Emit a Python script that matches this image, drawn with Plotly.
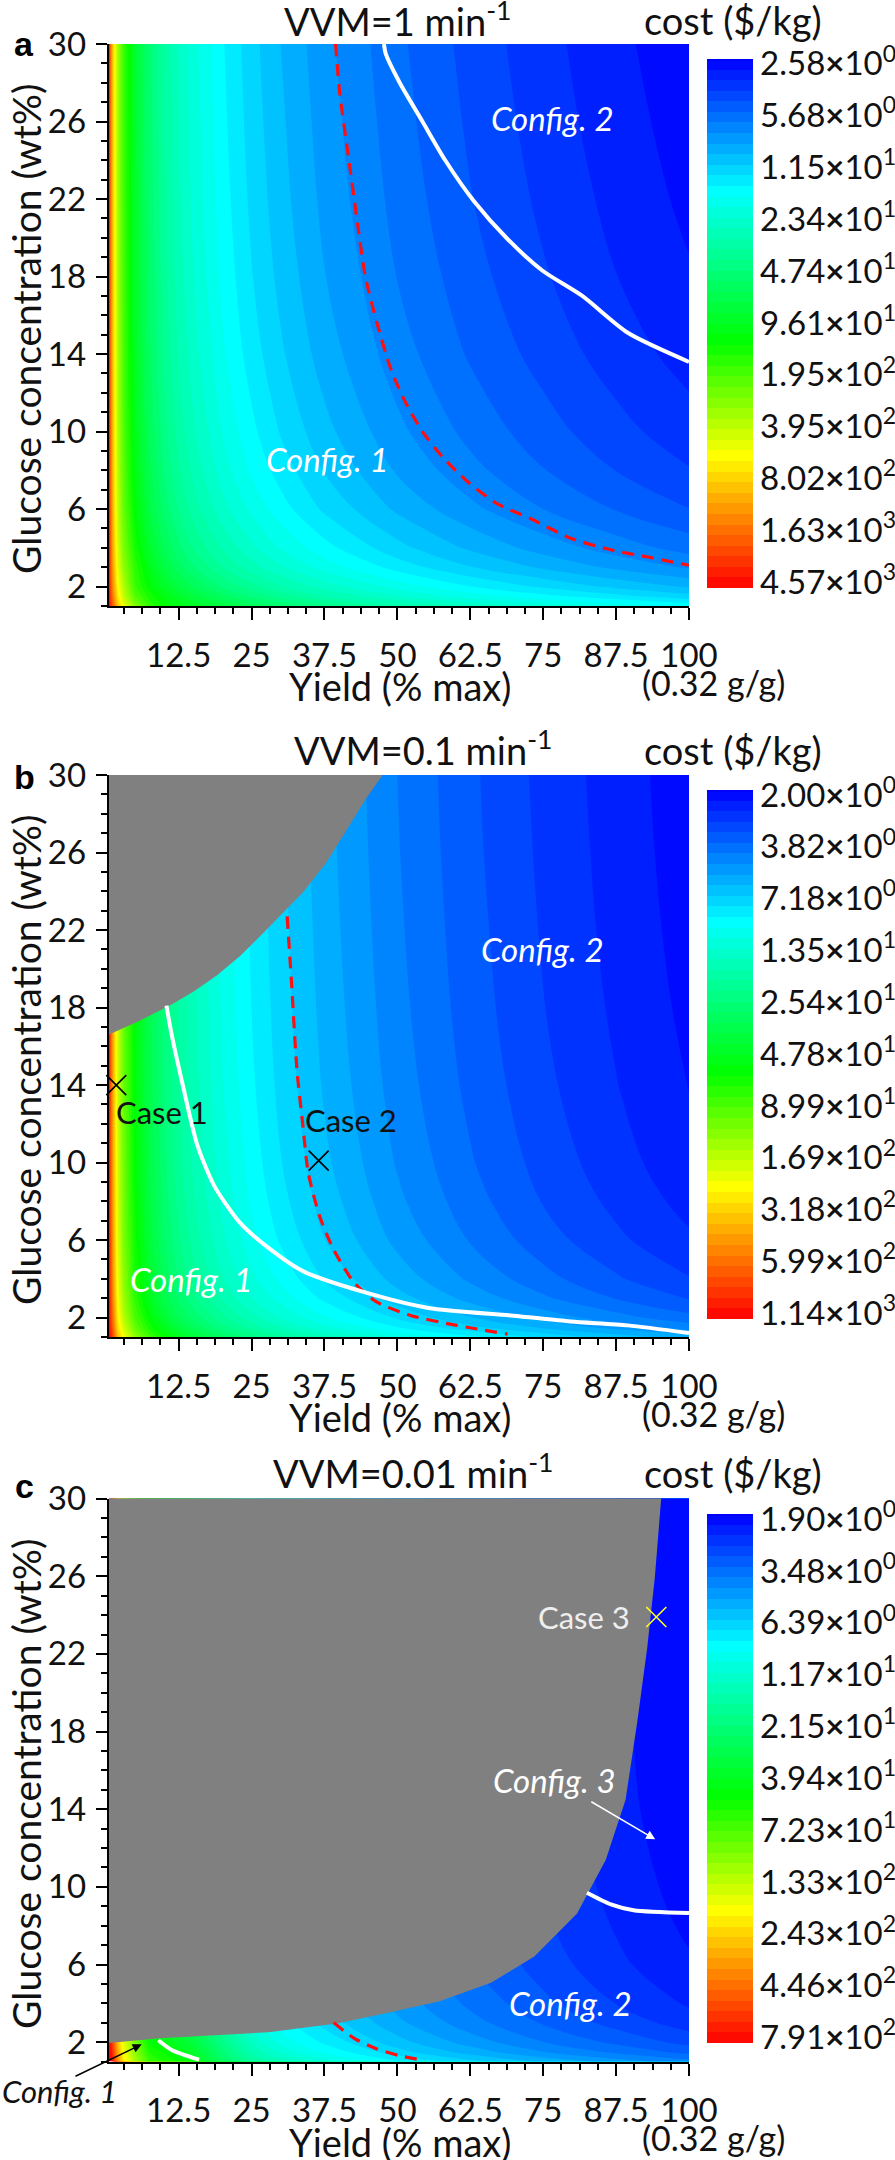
import math
import plotly.graph_objects as go

W, H = 895, 2160
FONT = "Lato"

X_GRID = [0.5, 1, 2, 3, 5, 7.5, 10, 12.5, 15, 20, 25, 30, 37.5, 50, 62.5, 75, 87.5, 100]
Y_GRID = [30, 26, 22, 18, 14, 10, 8, 6, 4, 3, 2, 1.5, 1]

COST_A = [
    [4570, 1360, 405, 209, 96, 54, 37, 27.8, 22.2, 15.8, 12.2, 9.9, 7.7, 5.64, 4.44, 3.67, 3.11, 2.71],
    [4570, 1368, 409, 211, 97.6, 55.3, 37.8, 28.4, 22.8, 16.2, 12.5, 10.2, 7.93, 5.8, 4.57, 3.77, 3.2, 2.79],
    [4570, 1378, 414, 215, 99.6, 56.7, 38.8, 29.2, 23.4, 16.7, 12.9, 10.5, 8.19, 6.0, 4.73, 3.91, 3.32, 2.89],
    [4570, 1393, 422, 220, 102.6, 58.7, 40.3, 30.4, 24.4, 17.4, 13.5, 11, 8.59, 6.3, 4.97, 4.11, 3.49, 3.04],
    [4570, 1417, 434, 228, 107, 61.9, 42.7, 32.4, 26, 18.6, 14.4, 11.8, 9.23, 6.78, 5.35, 4.43, 3.76, 3.28],
    [4570, 1460, 455, 242, 116, 67.6, 47, 35.8, 28.9, 20.8, 16.2, 13.2, 10.4, 7.64, 6.04, 5, 4.25, 3.71],
    [4570, 1497, 474, 254, 123, 72.5, 50.7, 38.8, 31.4, 22.6, 17.6, 14.5, 11.4, 8.38, 6.63, 5.49, 4.68, 4.08],
    [4570, 1560, 505, 275, 136, 81, 57, 43.8, 35.6, 25.8, 20.2, 16.6, 13, 9.64, 7.64, 6.33, 5.4, 4.71],
    [4570, 1685, 568, 317, 161, 97.6, 69.5, 53.8, 43.9, 32, 25.2, 20.7, 16.4, 12.1, 9.64, 8, 6.83, 5.96],
    [4570, 1810, 630, 359, 186, 114, 82, 63.8, 52.2, 38.3, 30.2, 24.9, 19.7, 14.6, 11.6, 9.67, 8.25, 7.21],
    [4570, 2060, 755, 442, 205, 135, 102, 82, 68.9, 50.8, 40.2, 33.2, 26.4, 19.6, 15.6, 13, 11.1, 9.71],
    [4570, 2310, 880, 500, 240, 160, 122, 100, 84, 63.3, 50.2, 41.5, 33, 24.6, 19.6, 16.3, 14, 12.2],
    [4570, 2810, 1130, 640, 330, 190, 140, 120, 105, 82, 68, 57, 46.4, 34.6, 27.6, 23, 19.7, 17.2],
]
COST_B = [
    [1140, 508, 179, 102.6, 53.6, 33, 23.8, 18.6, 15.2, 11.2, 8.8, 7.26, 5.76, 4.28, 3.41, 2.82, 2.42, 2.11],
    [1140, 510, 180, 103, 54, 33.3, 24, 18.7, 15.3, 11.3, 8.88, 7.33, 5.81, 4.32, 3.44, 2.85, 2.44, 2.13],
    [1140, 513, 182, 104, 54.6, 33.7, 24.3, 19, 15.5, 11.4, 9, 7.43, 5.89, 4.38, 3.49, 2.89, 2.47, 2.16],
    [1140, 517, 184, 106, 55.4, 34.2, 24.7, 19.3, 15.8, 11.6, 9.16, 7.56, 6, 4.46, 3.55, 2.94, 2.52, 2.2],
    [1140, 523, 187, 108, 56.6, 35, 25.3, 19.8, 16.2, 11.9, 9.4, 7.76, 6.16, 4.58, 3.65, 3.02, 2.59, 2.26],
    [1140, 534, 192, 111, 58.8, 36.5, 26.4, 20.6, 16.9, 12.5, 9.84, 8.13, 6.45, 4.8, 3.82, 3.17, 2.71, 2.37],
    [1140, 544, 197, 115, 60.8, 37.8, 27.4, 21.4, 17.6, 13, 10.2, 8.46, 6.72, 5, 3.98, 3.3, 2.83, 2.47],
    [1140, 560, 205, 120, 64, 40, 29, 22.7, 18.7, 13.8, 10.9, 9, 7.14, 5.32, 4.24, 3.52, 3.01, 2.63],
    [1140, 592, 221, 131, 70.4, 44.2, 32.2, 25.3, 20.8, 15.4, 12.2, 10.1, 8, 5.96, 4.75, 3.94, 3.38, 2.95],
    [1140, 625, 238, 142, 77, 48.6, 35.5, 27.9, 23, 17, 13.5, 11.2, 8.88, 6.62, 5.28, 4.38, 3.75, 3.28],
    [1140, 690, 270, 163, 90, 57.3, 42, 33.1, 27.3, 20.3, 16, 13.3, 10.6, 7.92, 6.32, 5.25, 4.5, 3.93],
    [1140, 755, 303, 185, 103, 66, 48.5, 38.3, 31.7, 23.5, 18.7, 15.5, 12.3, 9.22, 7.36, 6.12, 5.24, 4.58],
    [1140, 885, 368, 228, 129, 83, 61.5, 48.7, 40.3, 30, 23.9, 19.8, 15.8, 11.8, 9.44, 7.85, 6.73, 5.88],
]
COST_C = [
    [791, 371, 164, 93, 53, 29.2, 25.4, 22.3, 19.1, 11.7, 7.7, 6.27, 5.01, 3.76, 3.01, 2.51, 2.15, 1.9],
    [791, 371, 164, 93, 53, 29.2, 25.4, 22.3, 19.1, 11.7, 7.7, 6.3, 5.04, 3.78, 3.02, 2.52, 2.16, 1.9],
    [791, 371, 164, 93, 53, 29.2, 25.4, 22.3, 19.1, 11.7, 7.7, 6.33, 5.07, 3.8, 3.04, 2.53, 2.17, 1.9],
    [791, 378, 167, 95, 54, 29.7, 25.9, 22.7, 19.4, 11.9, 7.8, 6.43, 5.15, 3.86, 3.09, 2.57, 2.21, 1.93],
    [791, 385, 171, 96, 55, 30.3, 26.4, 23.1, 19.8, 12.1, 8, 6.53, 5.23, 3.92, 3.14, 2.61, 2.24, 1.96],
    [791, 399, 177, 100, 57, 31.4, 27.4, 23.9, 20.5, 12.5, 8.3, 6.77, 5.41, 4.06, 3.25, 2.71, 2.32, 2.03],
    [791, 413, 183, 103, 59, 32.5, 28.3, 24.8, 21.2, 13, 8.6, 6.97, 5.57, 4.18, 3.34, 2.79, 2.39, 2.09],
    [791, 434, 192, 108, 62, 34, 29.8, 26, 22.3, 13.6, 9, 7.27, 5.81, 4.36, 3.49, 2.91, 2.49, 2.18],
    [791, 476, 211, 119, 68, 37, 32.6, 28.6, 24.5, 15, 9.9, 7.93, 6.35, 4.76, 3.81, 3.17, 2.72, 2.38],
    [791, 525, 232, 131, 75, 41, 36, 31.5, 27, 16.5, 10.9, 8.57, 6.85, 5.14, 4.11, 3.43, 2.94, 2.57],
    [791, 616, 273, 154, 88, 48.4, 42, 37, 31.7, 19.4, 12.8, 9.83, 7.87, 5.9, 4.72, 3.93, 3.37, 2.95],
    [791, 700, 310, 175, 100, 55, 48, 42, 36, 22, 14.5, 11.2, 8.9, 6.66, 5.33, 4.44, 3.81, 3.33],
    [791, 791, 357, 201, 115, 63, 55, 48, 41, 25, 16.7, 13.8, 10.9, 8.2, 6.56, 5.47, 4.69, 4.1],
]

LABELS_A = ["2.58|0", "5.68|0", "1.15|1", "2.34|1", "4.74|1", "9.61|1", "1.95|2", "3.95|2", "8.02|2", "1.63|3", "4.57|3"]
LABELS_B = ["2.00|0", "3.82|0", "7.18|0", "1.35|1", "2.54|1", "4.78|1", "8.99|1", "1.69|2", "3.18|2", "5.99|2", "1.14|3"]
LABELS_C = ["1.90|0", "3.48|0", "6.39|0", "1.17|1", "2.15|1", "3.94|1", "7.23|1", "1.33|2", "2.43|2", "4.46|2", "7.91|2"]
RANGE_A = (2.58, 4570)
RANGE_B = (2.00, 1140)
RANGE_C = (1.90, 791)

X_TICKS = [12.5, 25, 37.5, 50, 62.5, 75, 87.5, 100]
X_TICK_TEXT = ["12.5", "25", "37.5", "50", "62.5", "75", "87.5", "100"]
X_MINOR = [3.125, 6.25, 9.375, 15.625, 18.75, 21.875, 28.125, 31.25, 34.375, 40.625, 43.75, 46.875,
           53.125, 56.25, 59.375, 65.625, 68.75, 71.875, 78.125, 81.25, 84.375, 90.625, 93.75, 96.875]
Y_TICKS = [2, 6, 10, 14, 18, 22, 26, 30]
Y_MINOR = [1, 3, 4, 5, 7, 8, 9, 11, 12, 13, 15, 16, 17, 19, 20, 21, 23, 24, 25, 27, 28, 29]

WHITE_A_X = [47.7, 48, 50.4, 54.3, 58.2, 63.1, 69, 74.9, 81.7, 89.5, 100]
WHITE_A_Y = [30, 29.5, 28, 26, 24, 21.9, 19.9, 18.3, 17, 15.1, 13.6]
RED_A_X = [39.4, 40.1, 41.6, 43, 44.5, 46.5, 48.9, 51.4, 54.3, 57.7, 62.1, 67, 72.9, 79.7, 86.6, 93.4, 100]
RED_A_Y = [30, 27.5, 24.2, 21.1, 18, 15.6, 13.2, 11.5, 10, 8.7, 7.4, 6.3, 5.5, 4.5, 3.9, 3.5, 3.1]

WHITE_B_X = [10.4, 11.3, 13.2, 15.7, 18.6, 23, 27.9, 33.8, 44.5, 55.3, 69.9, 79.7, 89.5, 100]
WHITE_B_Y = [18.1, 16.6, 14, 10.9, 8.8, 6.9, 5.6, 4.4, 3.3, 2.5, 2.1, 1.8, 1.6, 1.2]
RED_B_X = [31.1, 31.8, 32.8, 33.8, 34.7, 36.7, 39.1, 42.6, 46.5, 52.4, 60.2, 68.9]
RED_B_Y = [22.7, 19.5, 14.7, 11.9, 9.5, 7.2, 5.5, 3.8, 2.8, 2.1, 1.6, 1.15]
GRAY_B_X = [0.5, 5.4, 11.3, 15.2, 19, 23, 27, 30.8, 33.8, 37.7, 40.6, 44.5, 47.3, 0.5]
GRAY_B_Y = [16.65, 17.3, 18.2, 18.9, 19.7, 20.7, 21.9, 23.1, 24, 25.5, 26.9, 28.8, 30, 30]

WHITE_C1_X = [82.5, 86.6, 90.5, 100]
WHITE_C1_Y = [9.7, 9.1, 8.8, 8.65]
WHITE_C2_X = [9, 11.3, 16]
WHITE_C2_Y = [2.1, 1.6, 1.1]
RED_C_X = [39.1, 42.6, 46.5, 50.4, 54.7]
RED_C_Y = [3, 2.2, 1.65, 1.3, 1.05]
GRAY_C_X = [0.5, 9.3, 27.9, 39.6, 48.4, 57.2, 66, 73.4, 80.7, 85.6, 89, 91, 92.7, 94, 95.1, 0.5]
GRAY_C_Y = [2.0, 2.24, 2.55, 3.0, 3.55, 4.14, 5.1, 6.44, 8.65, 11.4, 14.5, 18.5, 22.3, 25.9, 30, 30]

CASE_B_X = [1.8, 36.5]
CASE_B_Y = [14, 10.1]
CASE_C_X = [94.4]
CASE_C_Y = [23.9]

# colour stops: s runs from most expensive (red) to cheapest (blue)
COLORSCALE = [[0, "#ff0000"], [0.25, "#ffff00"], [0.465, "#00ff00"], [0.75, "#00ffff"], [1, "#0000ff"]]

PX_L, PX_R = 108.7, 689
PANELS = [
    dict(top=44, bot=606, bar_top=58.6, bar_bot=587.5, cost=COST_A, rng=RANGE_A, labels=LABELS_A,
         title="VVM=1 min<sup>-1</sup>", letter="a", title_x=397, title_y=19, cost_y=20, letter_y=44),
    dict(top=775, bot=1337, bar_top=790, bar_bot=1318.5, cost=COST_B, rng=RANGE_B, labels=LABELS_B,
         title="VVM=0.1 min<sup>-1</sup>", letter="b", title_x=423, title_y=748, cost_y=750, letter_y=777),
    dict(top=1498.6, bot=2061.6, bar_top=1514, bar_bot=2042.7, cost=COST_C, rng=RANGE_C, labels=LABELS_C,
         title="VVM=0.01 min<sup>-1</sup>", letter="c", title_x=413, title_y=1471, cost_y=1473, letter_y=1486),
]


def px(x):
    return x / W


def py(y):
    return 1 - y / H


def tick_label(s):
    mant, exp = s.split("|")
    return f"{mant}<b>×</b>10<sup>{exp}</sup>"


fig = go.Figure()
annotations = []
layout_axes = {}
BANDS = 50

for i, p in enumerate(PANELS):
    n = "" if i == 0 else str(i + 1)
    xa, ya = f"x{n}", f"y{n}"
    lo = -math.log10(p["rng"][1])
    hi = -math.log10(p["rng"][0])
    size = (hi - lo) / BANDS
    z = [[-math.log10(v) for v in row] for row in reversed(p["cost"])]
    tickvals = [hi - size / 2 - k * (hi - lo - size) / 10 for k in range(11)]
    fig.add_trace(go.Contour(
        x=X_GRID, y=list(reversed(Y_GRID)), z=z, xaxis=xa, yaxis=ya,
        zmin=lo, zmax=hi, autocontour=False, colorscale=COLORSCALE,
        contours=dict(start=lo, end=hi, size=size, coloring="fill", showlines=False),
        line=dict(width=0, smoothing=1), hoverinfo="skip",
        colorbar=dict(
            x=px(706.6), xanchor="left", xpad=0, y=py((p["bar_top"] + p["bar_bot"]) / 2), yanchor="middle", ypad=0,
            thickness=45.5, thicknessmode="pixels", len=p["bar_bot"] - p["bar_top"], lenmode="pixels",
            outlinewidth=0, borderwidth=0, ticks="", tickmode="array", tickvals=tickvals,
            ticktext=[tick_label(s) for s in p["labels"]], ticklabelposition="outside",
            tickfont=dict(family=FONT, size=33, color="#111"),
        ),
    ))
    axis_common = dict(showgrid=False, zeroline=False, showline=True, linecolor="black", linewidth=2,
                       ticks="outside", tickcolor="black", tickwidth=2, tickmode="array",
                       tickfont=dict(family=FONT, size=33, color="#111"))
    layout_axes[f"xaxis{n}"] = dict(axis_common, domain=[px(PX_L), px(PX_R)], range=[0.5, 100], anchor=ya,
                                    tickvals=X_TICKS, ticktext=X_TICK_TEXT, ticklen=12, ticklabelstandoff=7,
                                    minor=dict(tickmode="array", tickvals=X_MINOR, ticks="outside", ticklen=6,
                                               tickwidth=2, tickcolor="black"))
    layout_axes[f"yaxis{n}"] = dict(axis_common, domain=[py(p["bot"]), py(p["top"])], range=[1, 30], anchor=xa,
                                    tickvals=Y_TICKS, ticklen=11, ticklabelstandoff=3,
                                    minor=dict(tickmode="array", tickvals=Y_MINOR, ticks="outside", ticklen=6,
                                               tickwidth=2, tickcolor="black"))

    def text(x, y, t, size=38, color="#111", **kw):
        annotations.append(dict(x=px(x), y=py(y), xref="paper", yref="paper", text=t, showarrow=False,
                                xanchor="center", yanchor="middle", font=dict(family=FONT, size=size, color=color), **kw))

    text(p["title_x"], p["title_y"], p["title"])
    text(733, p["cost_y"], "cost ($/kg)")
    annotations.append(dict(x=px(24), y=py(p["letter_y"]), xref="paper", yref="paper", text=f"<b>{p['letter']}</b>",
                            showarrow=False, xanchor="center", yanchor="middle",
                            font=dict(family="Liberation Sans", size=34, color="black")))
    text(26, (p["top"] + p["bot"]) / 2 + 4, "Glucose concentration (wt%)", size=39, textangle=-90)
    text(400, p["bot"] + 80, "Yield (% max)")
    text(713, p["bot"] + 76, "(0.32 g/g)", size=34)


def line(x, y, color, width, axis, dash="solid"):
    n = "" if axis == 1 else str(axis)
    fig.add_trace(go.Scatter(x=x, y=y, mode="lines", line=dict(color=color, width=width, dash=dash, shape="spline", smoothing=0.7),
                             xaxis=f"x{n}", yaxis=f"y{n}", showlegend=False, hoverinfo="skip"))


def gray(x, y, axis):
    n = "" if axis == 1 else str(axis)
    fig.add_trace(go.Scatter(x=x, y=y, mode="lines", fill="toself", fillcolor="#808080",
                             line=dict(color="#808080", width=1.5), xaxis=f"x{n}", yaxis=f"y{n}",
                             showlegend=False, hoverinfo="skip"))


def cross(x, y, color, axis):
    n = "" if axis == 1 else str(axis)
    fig.add_trace(go.Scatter(x=x, y=y, mode="markers", cliponaxis=False,
                             marker=dict(symbol="x-thin", size=20, line=dict(color=color, width=1.6)),
                             xaxis=f"x{n}", yaxis=f"y{n}", showlegend=False, hoverinfo="skip"))


DASH = "12px,8px"
line(RED_A_X, RED_A_Y, "#ff1010", 3.2, 1, DASH)
line(WHITE_A_X, WHITE_A_Y, "white", 4, 1)
gray(GRAY_B_X, GRAY_B_Y, 2)
line(RED_B_X, RED_B_Y, "#ff1010", 3.2, 2, DASH)
line(WHITE_B_X, WHITE_B_Y, "white", 4, 2)
cross(CASE_B_X, CASE_B_Y, "black", 2)
gray(GRAY_C_X, GRAY_C_Y, 3)
line(RED_C_X, RED_C_Y, "#ff1010", 3.2, 3, DASH)
line(WHITE_C1_X, WHITE_C1_Y, "white", 4, 3)
line(WHITE_C2_X, WHITE_C2_Y, "white", 4, 3)
cross(CASE_C_X, CASE_C_Y, "#ffff20", 3)


def note(x, y, t, axis, color="white", italic=True, size=33):
    n = "" if axis == 1 else str(axis)
    body = f"<i>{t}</i>" if italic else t
    annotations.append(dict(x=x, y=y, xref=f"x{n}", yref=f"y{n}", text=body, showarrow=False,
                            font=dict(family=FONT, size=size, color=color)))


note(76.6, 26.2, "Config. 2", 1)
note(38, 8.6, "Config. 1", 1)
note(74.9, 21, "Config. 2", 2)
note(14.7, 4, "Config. 1", 2)
note(9.7, 12.6, "Case 1", 2, color="#111", italic=False, size=31)
note(42, 12.2, "Case 2", 2, color="#111", italic=False, size=31)
note(82, 23.9, "Case 3", 3, color="#eeeeee", italic=False, size=31)
note(77, 15.5, "Config. 3", 3)
note(79.7, 4, "Config. 2", 3)
annotations.append(dict(x=px(59), y=py(2091), xref="paper", yref="paper", text="<i>Config. 1</i>", showarrow=False,
                        xanchor="center", yanchor="middle", font=dict(family=FONT, size=31, color="#111")))
annotations.append(dict(x=94.2, y=12.45, ax=83, ay=14.43, xref="x3", yref="y3", axref="x3", ayref="y3", text="",
                        showarrow=True, arrowhead=2, arrowsize=1.2, arrowwidth=1.5, arrowcolor="white"))
annotations.append(dict(x=6.16, y=1.89, ax=-5.45, ay=0.21, xref="x3", yref="y3", axref="x3", ayref="y3", text="",
                        showarrow=True, arrowhead=2, arrowsize=1.2, arrowwidth=1.5, arrowcolor="black"))

fig.update_layout(width=W, height=H, autosize=False, margin=dict(l=0, r=0, t=0, b=0, autoexpand=False),
                  paper_bgcolor="white", plot_bgcolor="white", showlegend=False, annotations=annotations, **layout_axes)

fig.write_html("out.html", config=dict(displayModeBar=False), post_script="document.body.style.margin='0';")
